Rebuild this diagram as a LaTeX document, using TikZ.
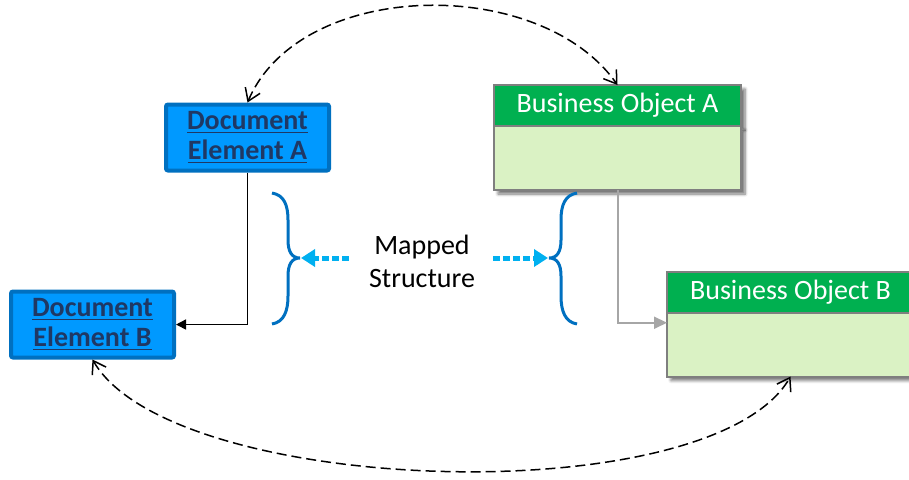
\documentclass[tikz,border=0pt]{standalone}
\usepackage{fontspec}
\setmainfont{Carlito}
\usetikzlibrary{arrows.meta,positioning,shadows.blur}

\definecolor{docblue}{RGB}{0,153,255}
\definecolor{docedge}{RGB}{0,112,192}
\definecolor{doctext}{RGB}{31,56,100}
\definecolor{bogreen}{RGB}{0,176,80}
\definecolor{bolight}{RGB}{218,242,196}
\definecolor{boedge}{RGB}{127,127,127}
\definecolor{linkgray}{RGB}{166,166,166}
\definecolor{mapcyan}{RGB}{0,176,240}

\tikzset{
	docbox/.style={draw=docedge,fill=docblue,line width=2pt,rounded corners=1pt,
		minimum width=81.5pt,minimum height=33pt,inner sep=0pt,align=center,
		text=doctext,font=\bfseries\fontsize{14}{15}\selectfont},
	boshadow/.style={blur shadow={shadow xshift=2pt,shadow yshift=-2pt,
		shadow blur radius=1.5pt,shadow blur steps=6,shadow opacity=55}},
	bohead/.style={draw=boedge,fill=bogreen,line width=1pt,text=white,
		minimum width=123.5pt,minimum height=20.5pt,inner sep=0pt,outer sep=0pt,
		font=\fontsize{14}{16}\selectfont,boshadow},
	bobody/.style={draw=boedge,fill=bolight,line width=1pt,
		minimum width=123.5pt,minimum height=32pt,inner sep=0pt,outer sep=0pt,boshadow},
	maptext/.style={align=center,inner sep=0pt,font=\fontsize{14}{16.5}\selectfont},
	brace/.style={draw=docedge,line width=1.5pt},
	maparrow/.style={draw=mapcyan,line width=2.5pt,dash pattern=on 3.5pt off 1.5pt,
		-{Triangle[length=7pt,width=8.5pt]}},
	doclink/.style={draw=black,line width=0.75pt,-{Triangle[length=5pt,width=5pt]}},
	bolink/.style={draw=linkgray,line width=1pt,-{Triangle[length=6.5pt,width=6pt]}},
	syncarc/.style={draw=black,line width=0.75pt,dash pattern=on 5pt off 2.5pt,
		{Straight Barb[length=6pt,width=8pt]}-{Straight Barb[length=6pt,width=8pt]}}
}

\begin{document}
\begin{tikzpicture}[x=0.5pt,y=0.5pt]
	\useasboundingbox (0,0) rectangle (909,-479);

  %dokument-elementer
	\node[docbox] (docA) at (247.5,-137.5) {\underline{Document}\\\underline{Element A}};
	\node[docbox] (docB) at (92.5,-324.5) {\underline{Document}\\\underline{Element B}};

  %business objects
	\node[bohead] (boA) at (617.5,-105.5) {Business Object A};
	\node[bobody,below=0pt of boA] (boAbody) {};
	\node[bohead] (boB) at (790.5,-292) {Business Object B};
	\node[bobody,below=0pt of boB] (boBbody) {};

  %forbindelser
	\draw[doclink] (docA.south) |- (docB.east);
	\draw[bolink] (boAbody.south) |- (boBbody.170);

  %buer
	\draw[syncarc] (docA.north) to[out=67,in=125,looseness=0.93] (boA.north);
	\draw[syncarc] (docB.south) to[out=-60,in=-120,looseness=0.58] (boBbody.south);

  %klammer
	\draw[brace] (272,-193) .. controls (284,-195) and (288,-205) .. (288,-220) -- (288,-240)
		.. controls (288,-252) and (292,-258) .. (300,-258)
		.. controls (292,-258) and (288,-264) .. (288,-276) -- (288,-296)
		.. controls (288,-311) and (284,-322) .. (272,-324);
	\draw[brace] (577,-193) .. controls (565,-195) and (561,-205) .. (561,-220) -- (561,-240)
		.. controls (561,-252) and (557,-258) .. (549,-258)
		.. controls (557,-258) and (561,-264) .. (561,-276) -- (561,-296)
		.. controls (561,-311) and (565,-322) .. (577,-324);
	\coordinate (ltip) at (301,-258);
	\coordinate (rtip) at (548,-258);

  %mapped structure
	\node[maptext] (mapped) at (422,-261) {Mapped\\Structure};
	\draw[maparrow,shorten <=10pt] (ltip -| mapped.west) -- (ltip);
	\draw[maparrow,shorten <=9pt] (rtip -| mapped.east) -- (rtip);
\end{tikzpicture}
\end{document}
